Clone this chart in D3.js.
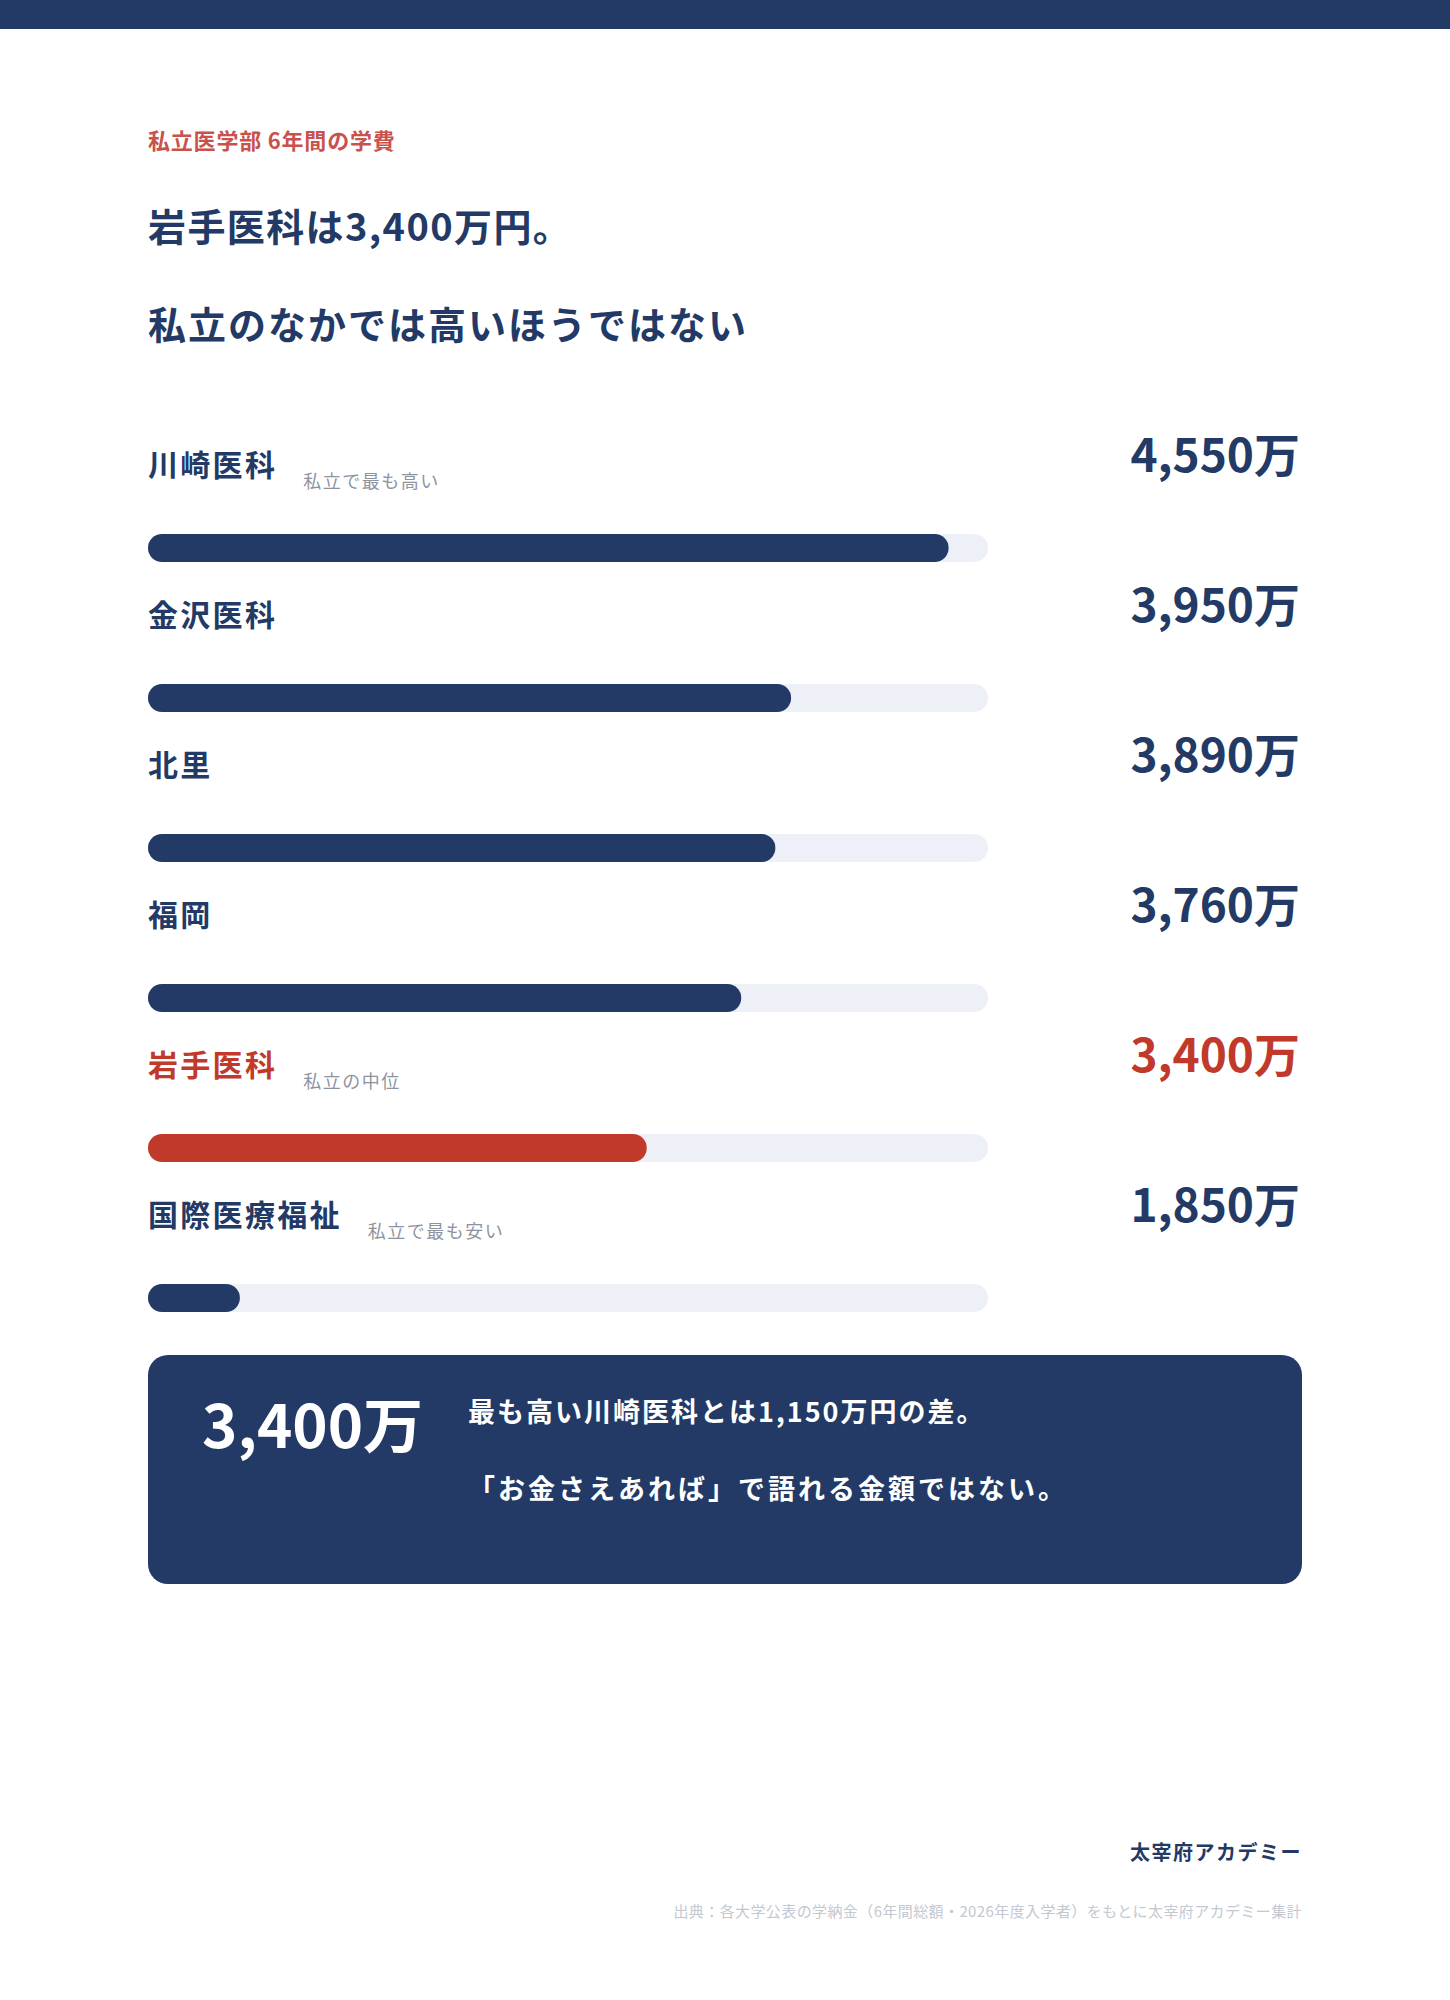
<!DOCTYPE html>
<html>
<head>
<meta charset="utf-8">
<script src="https://cdn.jsdelivr.net/npm/d3@7"></script>
<style>
  body { margin: 0; background: #fff; }
  text { font-family: "Noto Sans CJK JP", "Noto Sans", sans-serif; }
</style>
</head>
<body>
<div id="root"></div>
<script>
var schools = ['川崎医科', '金沢医科', '北里', '福岡', '岩手医科', '国際医療福祉'];
var fees = [4550, 3950, 3890, 3760, 3400, 1850];
var notes = ['私立で最も高い', '', '', '', '私立の中位', '私立で最も安い'];
var highlight = '岩手医科';
var calloutFee = 3400;
var calloutLines = ['最も高い川崎医科とは1,150万円の差。', '「お金さえあれば」で語れる金額ではない。'];

var navy = '#223a65';
var red = '#c0392b';

var data = schools.map((name, i) => ({ name: name, fee: fees[i], note: notes[i] }));

var svg = d3.select('#root')
  .append('svg')
    .attr('width', 1450)
    .attr('height', 2000);

// top band
svg.append('rect')
  .attr('x', 0).attr('y', 0)
  .attr('width', 1450).attr('height', 29)
  .attr('fill', navy);

svg.append('text')
  .attr('x', 148).attr('y', 139)
  .attr('dominant-baseline', 'central')
  .attr('font-size', 22).attr('font-weight', 700)
  .attr('letter-spacing', 0.8)
  .attr('fill', '#c9524c')
  .text('私立医学部 6年間の学費');

svg.append('text')
  .attr('x', 148).attr('y', 224)
  .attr('dominant-baseline', 'central')
  .attr('font-size', 38).attr('font-weight', 700)
  .attr('letter-spacing', 1.4)
  .attr('fill', navy)
  .text('岩手医科は3,400万円。');

svg.append('text')
  .attr('x', 148).attr('y', 322)
  .attr('dominant-baseline', 'central')
  .attr('font-size', 38).attr('font-weight', 700)
  .attr('letter-spacing', 2)
  .attr('fill', navy)
  .text('私立のなかでは高いほうではない');

// bars are not drawn from zero: domain starts at 1,500万
var x = d3.scaleLinear()
  .domain([1500, 4700])
  .range([148, 988]);

var y = d3.scaleBand()
  .domain(schools)
  .range([473, 1373]);

var rows = svg.selectAll('g.row')
  .data(data)
  .enter()
  .append('g')
    .attr('class', 'row')
    .attr('transform', d => 'translate(0,' + (y(d.name) + y.bandwidth() / 2) + ')');

var colorOf = d => d.name === highlight ? red : navy;

rows.append('rect')
  .attr('x', x.range()[0])
  .attr('y', -14)
  .attr('width', x.range()[1] - x.range()[0])
  .attr('height', 28)
  .attr('rx', 14)
  .attr('fill', '#edf0f7');

rows.append('rect')
  .attr('x', x.range()[0])
  .attr('y', -14)
  .attr('width', d => x(d.fee) - x.range()[0])
  .attr('height', 28)
  .attr('rx', 14)
  .attr('fill', colorOf);

var names = rows.append('text')
  .attr('x', 148)
  .attr('y', -85)
  .attr('dominant-baseline', 'central')
  .attr('font-size', 30).attr('font-weight', 700)
  .attr('letter-spacing', 2.3)
  .attr('fill', colorOf)
  .text(d => d.name);

rows.append('text')
  .attr('x', function (d, i) {
    return 148 + names.nodes()[i].getComputedTextLength() + 26;
  })
  .attr('y', -68)
  .attr('dominant-baseline', 'central')
  .attr('font-size', 18)
  .attr('letter-spacing', 1.5)
  .attr('fill', '#8d949f')
  .text(d => d.note);

rows.append('text')
  .attr('x', 1300)
  .attr('y', -96)
  .attr('text-anchor', 'end')
  .attr('dominant-baseline', 'central')
  .attr('font-size', 46).attr('font-weight', 700)
  .attr('fill', colorOf)
  .text(d => d3.format(',')(d.fee) + '万');

// callout
svg.append('rect')
  .attr('x', 148).attr('y', 1355)
  .attr('width', 1154).attr('height', 229)
  .attr('rx', 20)
  .attr('fill', navy);

svg.append('text')
  .attr('x', 202).attr('y', 1421)
  .attr('dominant-baseline', 'central')
  .attr('font-size', 60).attr('font-weight', 700)
  .attr('fill', '#fff')
  .text(d3.format(',')(calloutFee) + '万');

svg.selectAll('text.callout')
  .data(calloutLines)
  .enter()
  .append('text')
    .attr('class', 'callout')
    .attr('x', 468)
    .attr('y', (d, i) => 1410 + i * 77)
    .attr('dominant-baseline', 'central')
    .attr('font-size', 27).attr('font-weight', 700)
    .attr('letter-spacing', (d, i) => i === 0 ? 2 : 3)
    .attr('fill', '#fff')
    .text(d => d);

// footer
svg.append('text')
  .attr('x', 1302).attr('y', 1851)
  .attr('text-anchor', 'end')
  .attr('dominant-baseline', 'central')
  .attr('font-size', 20).attr('font-weight', 700)
  .attr('letter-spacing', 1.5)
  .attr('fill', navy)
  .text('太宰府アカデミー');

svg.append('text')
  .attr('x', 1302).attr('y', 1910)
  .attr('text-anchor', 'end')
  .attr('dominant-baseline', 'central')
  .attr('font-size', 15)
  .attr('letter-spacing', 0.4)
  .attr('fill', '#c3c8d1')
  .text('出典：各大学公表の学納金（6年間総額・2026年度入学者）をもとに太宰府アカデミー集計');
</script>
</body>
</html>
